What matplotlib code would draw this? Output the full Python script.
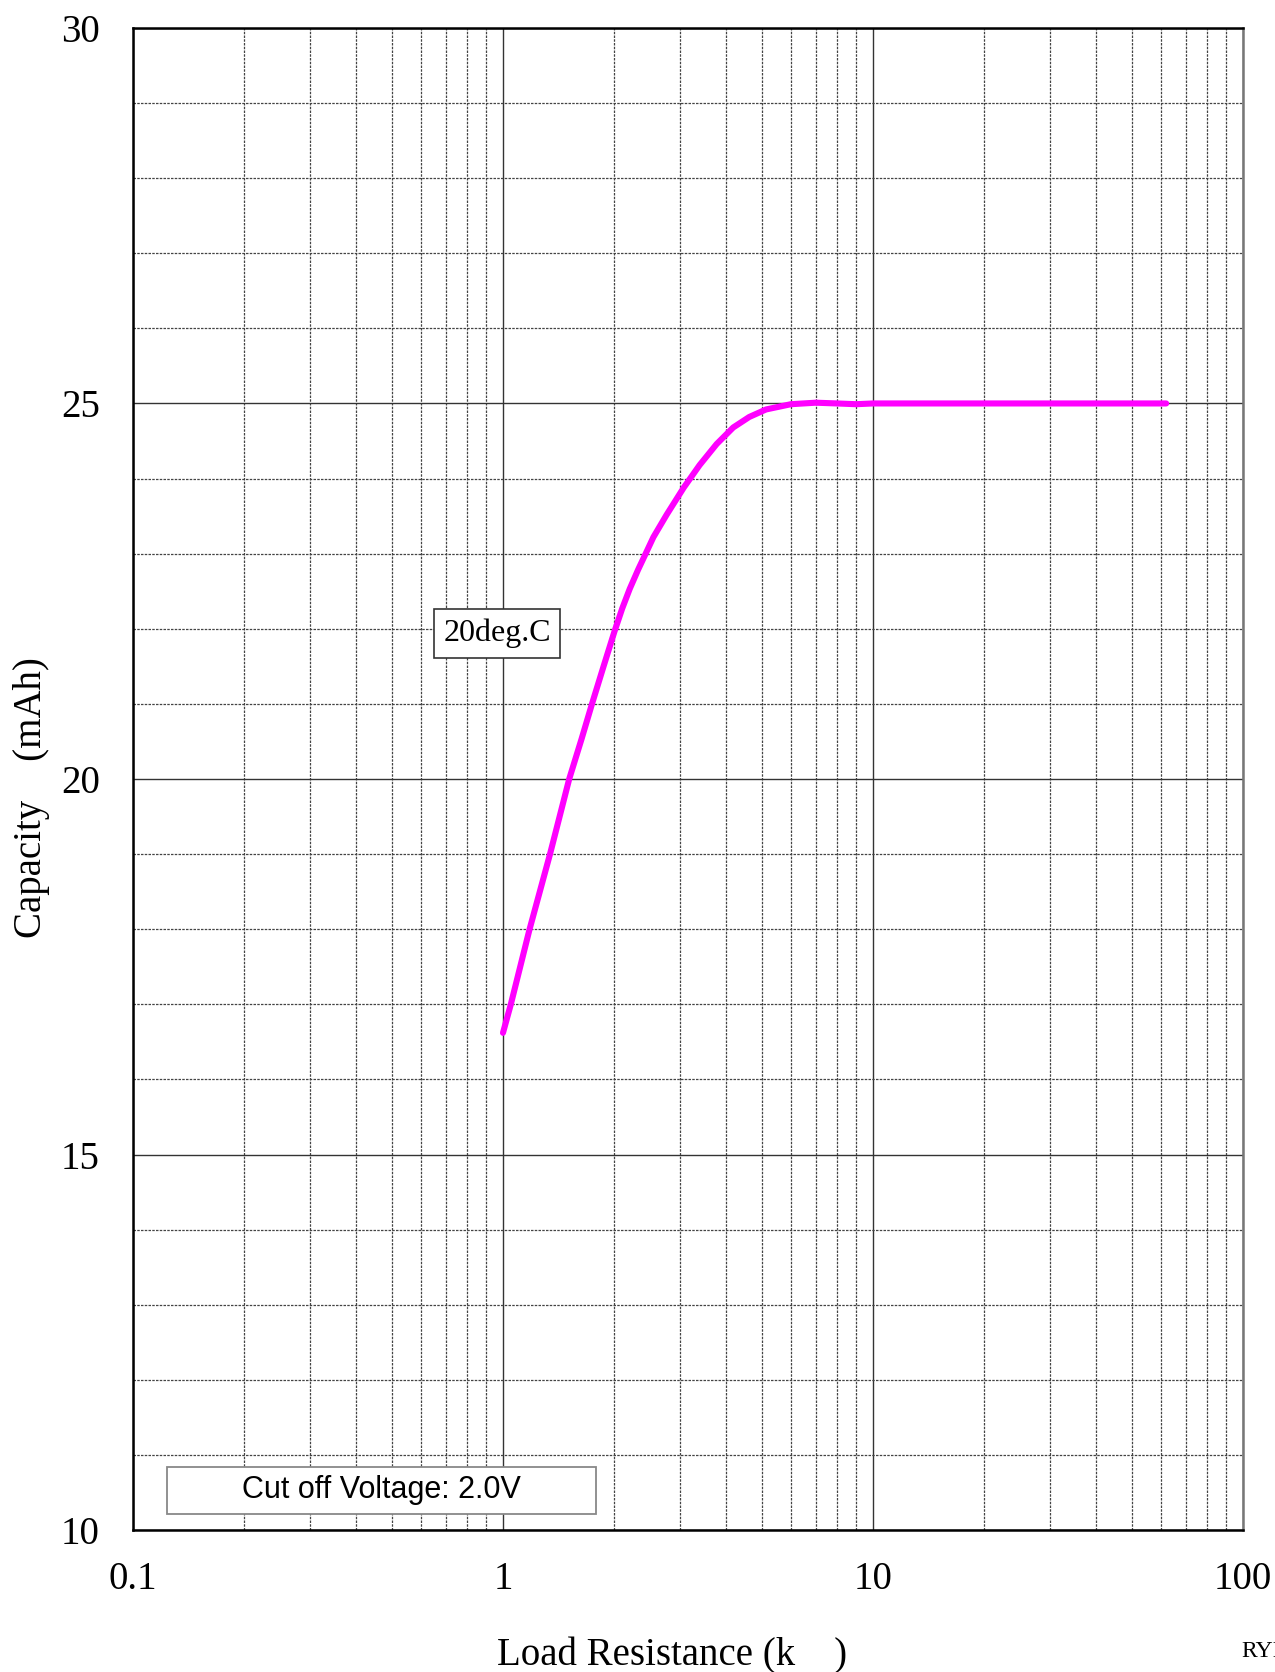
import numpy as np
import matplotlib
matplotlib.use("Agg")
import matplotlib.pyplot as plt
import matplotlib.ticker as ticker
from matplotlib.patches import Rectangle

# values
resistance = [1.0, 1.05, 1.18, 1.34, 1.51, 1.63, 1.74, 1.87, 2.0, 2.10, 2.20, 2.32, 2.43,
              2.55, 2.77, 3.08, 3.40, 3.78, 4.19, 4.63, 5.14, 6.0, 7.0, 8.0, 9.0,
              10.0, 20.0, 40.0, 62.0]
capacity = [16.62, 17.0, 18.0, 19.0, 20.0, 20.53, 21.0, 21.5, 21.96, 22.27, 22.53, 22.79, 23.0,
            23.22, 23.52, 23.88, 24.18, 24.46, 24.68, 24.82, 24.92, 24.99, 25.01, 25.0, 24.99,
            25.0, 25.0, 25.0, 25.0]
x_ticks = [0.1, 1, 10, 100]
x_labels = ['0.1', '1', '10', '100']
y_ticks = [10, 15, 20, 25, 30]

serif = ['Liberation Serif', 'DejaVu Serif']
sans = ['Liberation Sans', 'DejaVu Sans']

fig = plt.figure(figsize=(12.75, 16.72), dpi=100)
ax = fig.add_axes([0.1043, 0.0849, 0.8706, 0.8984])

ax.set_xscale('log')
ax.set_xlim(0.1, 100)
ax.set_ylim(10, 30)

# grid
ax.xaxis.set_major_locator(ticker.FixedLocator(x_ticks))
ax.xaxis.set_minor_locator(ticker.LogLocator(base=10, subs=np.arange(2, 10)))
ax.yaxis.set_major_locator(ticker.FixedLocator(y_ticks))
ax.yaxis.set_minor_locator(ticker.MultipleLocator(1))
ax.grid(which='major', color='#333333', linestyle='-', linewidth=1.0)
ax.grid(which='minor', color='#444444', linestyle=(0, (2, 1)), linewidth=0.9)
ax.set_axisbelow(True)

ax.plot(resistance, capacity, color='#ff00ff', linewidth=4.4,
        solid_capstyle='round', solid_joinstyle='round', zorder=3)

ax.set_xticks(x_ticks)
ax.set_xticklabels(x_labels)
ax.set_yticks(y_ticks)
ax.tick_params(which='both', length=0)
ax.tick_params(axis='y', pad=24)
ax.tick_params(axis='x', pad=22)
for lab in ax.get_xticklabels() + ax.get_yticklabels():
    lab.set_family(serif)
    lab.set_fontsize(28)

for side in ['left', 'top', 'bottom']:
    ax.spines[side].set_linewidth(1.8)
    ax.spines[side].set_color('black')
ax.spines['right'].set_linewidth(1.8)
ax.spines['right'].set_color('#777777')

ax.text(0.964, 21.94, '20deg.C', family=serif, fontsize=23, ha='center', va='center',
        bbox=dict(boxstyle='square,pad=0.3', facecolor='white', edgecolor='#333333', linewidth=1.2),
        zorder=4)

# cut off voltage box
ax.add_patch(Rectangle((0.0306, 0.0107), 0.3864, 0.0312, transform=ax.transAxes,
                       facecolor='white', edgecolor='#888888', linewidth=1.3, zorder=4))
ax.text(0.2234, 0.0266, 'Cut off Voltage: 2.0V', family=sans, fontsize=22,
        ha='center', va='center', transform=ax.transAxes, zorder=5)

fig.text(0.527, 0.0095, 'Load Resistance (k    )', family=serif, fontsize=28,
         ha='center', va='center')
fig.text(0.025, 0.523, 'Capacity    (mAh)', family=serif, fontsize=28,
         ha='center', va='center', rotation=90)
fig.text(0.974, 0.0125, 'RYI', family=serif, fontsize=17, ha='left', va='center')

fig.savefig('out.png', dpi=100)
